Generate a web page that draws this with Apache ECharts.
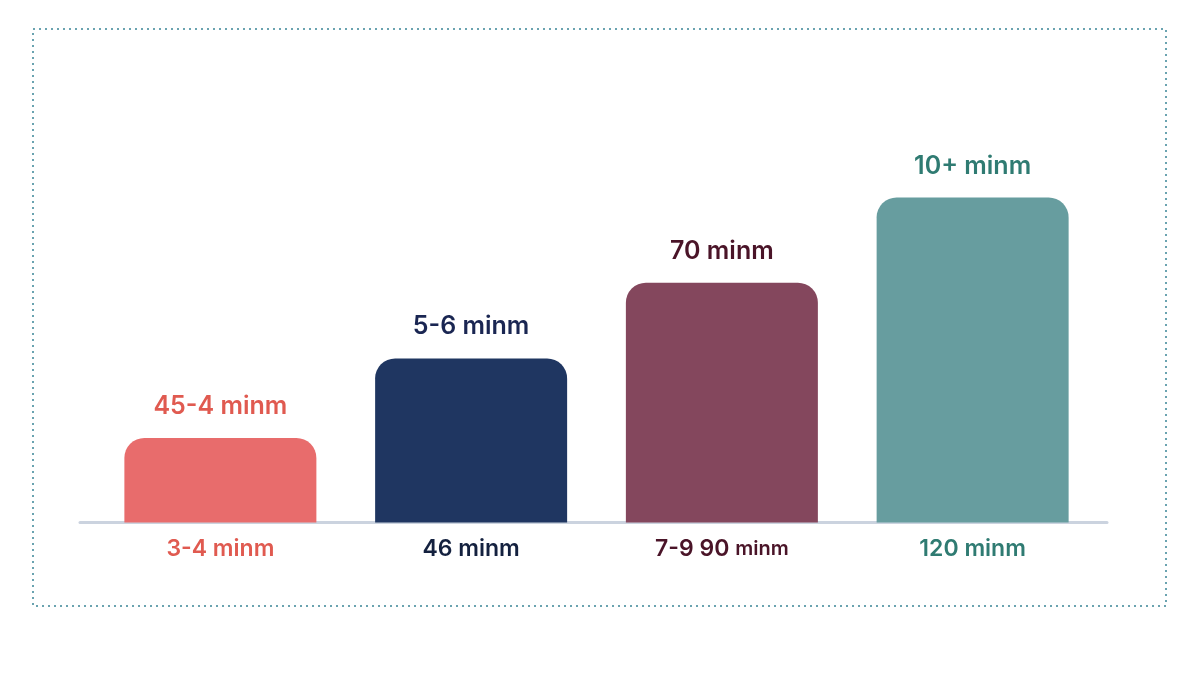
<!DOCTYPE html>
<html>
<head>
<meta charset="utf-8">
<script src="https://cdn.jsdelivr.net/npm/echarts@6/dist/echarts.min.js"></script>
<style>html,body{margin:0;padding:0;background:#fff}#c{width:1200px;height:675px}</style>
</head>
<body>
<div id="c"></div>
<script>
const categories = ['3-4 minm', '46 minm', '7-9 90 minm', '120 minm'];
const topLabels = ['45-4 minm', '5-6 minm', '70 minm', '10+ minm'];
const values = [26, 50.5, 73.8, 100];
const barColors = ['#E86C6C', '#1F3661', '#84475D', '#679D9F'];
const topLabelColors = ['#E05A50', '#1A2652', '#4A1428', '#2F7B72'];
const catLabelColors = ['#E05A50', '#14213F', '#4A1428', '#2F7B72'];

const FONT = 'Inter, "Noto Sans", sans-serif';
const chart = echarts.init(document.getElementById('c'), null, {renderer: 'canvas'});
chart.setOption({
  backgroundColor: '#ffffff',
  animation: false,
  graphic: [{
    type: 'rect',
    shape: {x: 33, y: 29, width: 1133, height: 577},
    style: {fill: 'none', stroke: '#6AA3B0', lineWidth: 2, lineDash: [2, 4]},
    z: -1
  }],
  grid: [
    {left: 95, right: 102, top: 197.5, bottom: 152.5},
    {left: 80, right: 93, top: 197.5, bottom: 152.5}
  ],
  xAxis: [{
    type: 'category',
    data: categories,
    gridIndex: 0,
    axisLine: {show: false},
    axisTick: {show: false},
    axisLabel: {
      interval: 0,
      hideOverlap: false,
      margin: 15,
      fontFamily: FONT,
      fontWeight: 600,
      fontSize: 23,
      formatter: function (v, i) {
        if (i === 2) return '{c2|7-9 90} {s2|minm}';
        return '{c' + i + '|' + v + '}';
      },
      rich: {
        c0: {color: catLabelColors[0], fontSize: 23, fontWeight: 600, fontFamily: FONT},
        c1: {color: catLabelColors[1], fontSize: 23, fontWeight: 600, fontFamily: FONT},
        c2: {color: catLabelColors[2], fontSize: 23, fontWeight: 600, fontFamily: FONT},
        s2: {color: catLabelColors[2], fontSize: 20, fontWeight: 600, fontFamily: FONT},
        c3: {color: catLabelColors[3], fontSize: 23, fontWeight: 600, fontFamily: FONT}
      }
    }
  }, {
    type: 'value',
    gridIndex: 1,
    min: 0, max: 1,
    axisLine: {show: true, lineStyle: {color: '#CBD3DF', width: 3}},
    axisTick: {show: false},
    axisLabel: {show: false},
    splitLine: {show: false}
  }],
  yAxis: [{
    type: 'value', gridIndex: 0, min: 0, max: 100,
    show: false
  }, {
    type: 'value', gridIndex: 1, min: 0, max: 1, show: false
  }],
  series: [{
    type: 'bar',
    xAxisIndex: 0,
    yAxisIndex: 0,
    barWidth: 192,
    z: 1,
    data: values.map((v, i) => ({
      value: v,
      itemStyle: {color: barColors[i], borderRadius: [20, 20, 0, 0]},
      label: {color: topLabelColors[i]}
    })),
    label: {
      show: true,
      position: 'top',
      distance: 19,
      fontFamily: FONT,
      fontWeight: 600,
      fontSize: 25,
      formatter: p => topLabels[p.dataIndex]
    }
  }]
});
</script>
</body>
</html>
